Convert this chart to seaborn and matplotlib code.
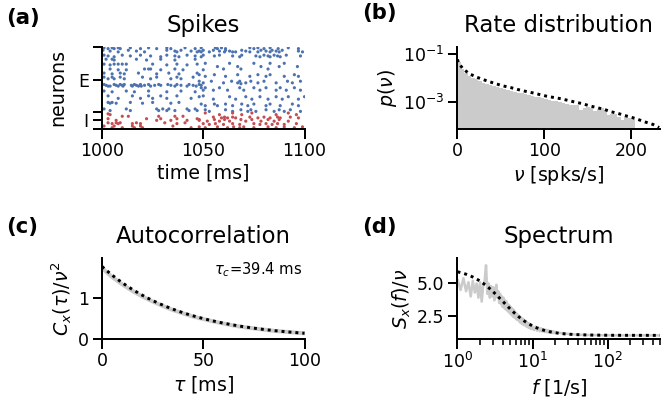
import numpy as np
import pandas as pd
import matplotlib
matplotlib.use("Agg")
import matplotlib.pyplot as plt
from matplotlib.ticker import NullLocator
import seaborn as sns

# ---------------- (a) spike raster ----------------
t_start = 1000  # ms
n_inh = 20
n_exc = 80
# (neuron id, spike times in ms after t_start)
exc_rows = [
    (99, [1, 5, 8, 14, 23, 32, 41, 49, 56, 59, 73, 77, 83, 92]),
    (98, [3, 6, 9, 19, 27, 34, 46, 57, 61, 75, 80, 87, 97]),
    (96, [0.5, 13, 32, 39, 50, 55, 61, 69, 78.5, 84, 89]),
    (95, [4, 17, 36, 44, 48, 58, 63, 71, 81, 86, 97]),
    (94, [8, 21, 37, 47, 49, 53, 60.5, 64.5, 66, 73, 77, 83, 87.5, 99]),
    (90, [1, 10, 19, 32, 42, 50, 58, 69, 80, 85, 91]),
    (89, [3, 14, 24, 36, 46, 55.5, 64.5, 76, 82, 86.7, 98]),
    (88, [6, 29, 38, 49, 68, 78, 83, 88]),
    (85, [2, 5, 17, 29, 46]),
    (84, [6, 22, 36]),
    (80, [51, 63, 75, 83, 90]),
    (79, [1, 6, 8, 10, 12, 25, 37, 47]),
    (78, [4, 32, 42]),
    (76, [57, 67, 78.5, 87.5, 96.5]),
    (73, [4, 21, 23, 24, 36, 60, 68.6, 82]),
    (72, [8, 12, 29, 40, 50]),
    (68, [1, 9, 18, 33, 47]),
    (67, [5, 11, 27, 38]),
    (66, [48, 55.5, 67, 77, 83, 95]),
    (64, [51, 61, 73, 81, 90, 97]),
    (63, [1, 5, 9, 20, 27, 37, 45]),
    (61, [3, 6, 11, 24, 34, 39]),
    (58, [48, 54, 64, 68, 73.5, 80, 91.6, 98]),
    (56, [50, 60, 67, 71, 77, 86, 94]),
    (55, [68.6]),
    (54, [1, 6, 9, 11, 16, 19, 23, 28, 32.5, 37, 43, 48]),
    (53, [2, 7, 10, 14.5, 17, 21, 26, 29, 34, 39, 45, 49]),
    (52, [3, 4, 8, 10.4, 15, 18, 19.4, 24, 36, 42, 46.5]),
    (50, [49, 51, 58, 68, 75, 81, 88, 95]),
    (47, [50, 55, 62, 70, 78, 86, 91, 98]),
    (46, [1, 12, 23, 39]),
    (45, [5, 16, 32, 46]),
    (40, [3, 15, 23, 29, 37, 50]),
    (39, [48, 63, 71, 78, 86, 92, 100]),
    (37, [8, 19, 25, 32, 44]),
    (36, [55, 66, 74, 82, 89, 97]),
    (32, [3, 5, 14, 25, 38]),
    (31, [4, 7, 20, 34]),
    (30, [49, 55.5, 61, 69, 75, 83, 94]),
    (28, [51, 57, 64.5, 72, 81, 88, 97]),
    (24, [1, 12, 27, 30, 33, 42, 46]),
    (23, [51, 61, 68.6, 73.5, 81, 87.5, 93]),
    (22, [4, 14, 28, 32, 36, 43, 47]),
    (21, [53, 64.5, 72, 76, 85, 90, 98]),
]
inh_rows = [
    (19, [51, 64.5, 74, 92]),
    (18, [3]),
    (17, [4, 58, 69, 86, 96]),
    (15, [10, 13, 28, 36, 40]),
    (14, [55, 60.5, 64.5, 73, 80, 86.7, 93]),
    (13, [59, 62, 66, 77, 83, 88, 97]),
    (12, [3, 22, 29, 37, 47]),
    (11, [48, 55.5, 60.5, 68.6, 74, 82, 87.5]),
    (10, [7, 27, 34, 42, 48]),
    (9, [52, 58, 63, 71, 78.5, 85, 92]),
    (7, [3, 7, 9, 17, 31, 41]),
    (6, [5, 8, 15, 19, 37, 50, 56, 64.5, 75, 81, 86.7, 96]),
    (5, [53, 60, 68, 78, 84, 90]),
    (3, [1, 6, 15, 19, 35]),
    (2, [48, 57, 65, 70, 82, 90, 99]),
    (1, [5, 10, 16, 20, 44, 51, 62, 68, 75, 86, 95]),
]

# ---------------- (b) rate distribution ----------------
rate_bin_width = 4.0
rate_hist_log10 = [
    -1.32, -1.62, -1.78, -1.90, -1.98, -2.06, -2.13, -2.19, -2.25, -2.29,
    -2.34, -2.38, -2.42, -2.46, -2.50, -2.53, -2.57, -2.61, -2.64, -2.67,
    -2.70, -2.74, -2.78, -2.81, -2.84, -2.88, -2.92, -2.95, -2.98, -3.02,
    -3.06, -3.10, -3.12, -3.15, -3.13, -3.36, -3.24, -3.20, -3.27, -3.38,
    -3.30, -3.27, -3.35, -3.55, -3.50, -3.52, -3.62, -3.78, -3.64, -3.68,
    -3.74,
]
rate_theory_nu = [0, 1, 6, 13, 21, 29, 37, 44, 52, 61, 69, 77, 86, 94, 102,
                  111, 119, 127, 135, 144, 152, 160, 169, 177, 185, 192, 202,
                  210, 217, 225, 232]
rate_theory_log10 = [-1.22, -1.36, -1.60, -1.81, -1.95, -2.06, -2.16, -2.24,
                     -2.33, -2.40, -2.48, -2.55, -2.62, -2.69, -2.76, -2.82,
                     -2.87, -2.94, -3.01, -3.08, -3.17, -3.24, -3.32, -3.42,
                     -3.49, -3.57, -3.67, -3.77, -3.86, -3.95, -4.08]

# ---------------- (c) autocorrelation ----------------
tau_c = 39.4       # ms, correlation time
acf_amp = 1.78     # C_x(0)/nu^2 of the exponential fit
acf_lag = [0, 5, 10, 15, 20, 25, 30, 35, 40, 45, 50, 55, 60, 65, 70, 75, 80,
           85, 90, 95, 100]
acf_value = [1.74, 1.52, 1.34, 1.18, 1.04, 0.92, 0.81, 0.71, 0.63, 0.55, 0.49,
             0.43, 0.38, 0.33, 0.29, 0.26, 0.23, 0.20, 0.18, 0.16, 0.14]

# ---------------- (d) spectrum ----------------
spec_plateau = 6.2  # S_x(0)/nu of the Lorentzian fit
spec_freq = ([round(1.0 + 0.1 * k, 1) for k in range(91)]
             + [10.5, 11, 11.5, 12, 12.5, 13, 13.5, 14, 14.5, 15, 15.5, 16,
                16.5, 17, 17.5, 18, 18.5, 19, 19.5, 20, 22, 25, 28, 32, 36,
                40, 45, 50, 60, 70, 80, 100, 120, 150, 200, 250, 300, 400,
                500])
spec_value = [
    5.3, 4.5, 5.4, 4.4, 5.1, 4.0, 5.2, 4.3, 5.0, 3.9, 5.1,
    3.6, 4.8, 5.2, 6.4, 4.2, 5.0, 3.9, 4.8, 4.0, 4.7,
    3.7, 4.5, 4.9, 3.9, 4.4, 3.5, 4.2, 3.4, 4.0, 3.2,
    3.9, 3.1, 3.7, 3.0, 3.6, 2.9, 3.4, 2.8, 3.3, 2.7,
    3.2, 2.6, 3.1, 2.5, 3.0, 2.4, 2.9, 2.4, 2.8, 2.3,
    2.7, 2.2, 2.6, 2.2, 2.5, 2.1, 2.5, 2.0, 2.4, 2.0,
    2.3, 1.9, 2.3, 1.9, 2.2, 1.8, 2.2, 1.8, 2.1, 1.8,
    2.1, 1.7, 2.0, 1.7, 2.0, 1.7, 1.9, 1.6, 1.9, 1.6,
    1.9, 1.6, 1.8, 1.5, 1.8, 1.5, 1.8, 1.5, 1.7, 1.5,
    1.42, 1.68, 1.36, 1.60, 1.32, 1.55, 1.30, 1.48, 1.26, 1.44,
    1.24, 1.40, 1.22, 1.36, 1.20, 1.33, 1.18, 1.30, 1.17, 1.27,
    1.20, 1.16, 1.12, 1.09, 1.07, 1.05, 1.04, 1.03, 1.02, 1.02,
    1.01, 1.01, 1.00, 1.00, 1.00, 1.00, 1.00, 1.00, 1.00,
]

# ---------------- style ----------------
sns.set_theme(style="ticks", context="talk")
plt.rcParams["font.family"] = ["DejaVu Sans"]
plt.rcParams["mathtext.fontset"] = "dejavusans"
for key in ("text.color", "axes.labelcolor", "xtick.color", "ytick.color",
            "axes.edgecolor"):
    plt.rcParams[key] = "black"

blue = "#4c72b0"
red = "#c44e52"
grey = "#cbcbcb"
dot_style = (0, (1, 1.35))
title_kw = dict(fontsize=21.6, pad=14)

dpi = 76
fig = plt.figure(figsize=(661 / dpi, 411 / dpi), dpi=dpi)
gs = fig.add_gridspec(2, 2, left=102 / 661, right=660 / 661,
                      top=1 - 47 / 411, bottom=1 - 339 / 411,
                      wspace=153 / 202.5, hspace=129 / 81.5)
ax_a = fig.add_subplot(gs[0, 0])
ax_b = fig.add_subplot(gs[0, 1])
ax_c = fig.add_subplot(gs[1, 0])
ax_d = fig.add_subplot(gs[1, 1])

# (a) raster
records = []
for pop, rows in (("E", exc_rows), ("I", inh_rows)):
    for nid, times in rows:
        for t in times:
            records.append({"time": t_start + t, "neuron": nid, "pop": pop})
spikes = pd.DataFrame(records)
sns.scatterplot(data=spikes, x="time", y="neuron", hue="pop",
                palette={"E": blue, "I": red}, s=9, linewidth=0,
                legend=False, ax=ax_a)
ax_a.set_xlim(1000, 1100)
ax_a.set_ylim(0, n_inh + n_exc)
ax_a.set_xticks([1000, 1050, 1100])
ax_a.set_yticks([0, n_inh / 2, n_inh, n_inh + n_exc / 2, n_inh + n_exc])
ax_a.set_yticklabels(["", "I", "", "E", ""])
ax_a.set_xlabel("time [ms]")
ax_a.set_ylabel("neurons", labelpad=10)
ax_a.set_title("Spikes", **title_kw)

# (b) rate histogram
n_bins = len(rate_hist_log10)
hist_df = pd.DataFrame({"nu": (np.arange(n_bins) + 0.5) * rate_bin_width,
                        "p": 10.0 ** np.array(rate_hist_log10)})
sns.histplot(data=hist_df, x="nu", weights="p", binwidth=rate_bin_width,
             binrange=(0, n_bins * rate_bin_width), color=grey,
             alpha=1, linewidth=0, ax=ax_b)
theory_df = pd.DataFrame({"nu": rate_theory_nu,
                          "p": 10.0 ** np.array(rate_theory_log10)})
sns.lineplot(data=theory_df, x="nu", y="p", color="black", lw=2.8,
             linestyle=dot_style, ax=ax_b)
ax_b.set_yscale("log")
ax_b.set_ylim(10 ** -4.12, 10 ** -0.70)
ax_b.set_xlim(0, 233)
ax_b.set_yticks([1e-3, 1e-1])
ax_b.yaxis.set_minor_locator(NullLocator())
ax_b.set_xticks([0, 100, 200])
ax_b.set_xlabel(r"$\nu$ [spks/s]")
ax_b.set_ylabel(r"$p(\nu)$")
ax_b.set_title("Rate distribution", **title_kw)

# (c) autocorrelation
acf_df = pd.DataFrame({"tau": acf_lag, "c": acf_value})
sns.lineplot(data=acf_df, x="tau", y="c", color=grey, lw=3.8, ax=ax_c)
tau_fine = np.linspace(0, 100, 201)
fit_df = pd.DataFrame({"tau": tau_fine,
                       "c": acf_amp * np.exp(-tau_fine / tau_c)})
sns.lineplot(data=fit_df, x="tau", y="c", color="black", lw=2.8,
             linestyle=dot_style, ax=ax_c)
ax_c.set_xlim(0, 100)
ax_c.set_ylim(0, 2.0)
ax_c.set_xticks([0, 50, 100])
ax_c.set_yticks([0, 1])
ax_c.text(0.99, 0.79, rf"$\tau_c$={tau_c} ms", transform=ax_c.transAxes,
          ha="right", va="baseline", fontsize=14)
ax_c.set_xlabel(r"$\tau$ [ms]")
ax_c.set_ylabel(r"$C_x(\tau)/\nu^2$")
ax_c.set_title("Autocorrelation", **title_kw)

# (d) power spectrum
spec_df = pd.DataFrame({"f": spec_freq, "s": spec_value})
sns.lineplot(data=spec_df, x="f", y="s", color=grey, lw=2.4, ax=ax_d)
f_fine = np.logspace(0, np.log10(500), 200)
lor = 1 + (spec_plateau - 1) / (1 + (2 * np.pi * f_fine * tau_c / 1000) ** 2)
lor_df = pd.DataFrame({"f": f_fine, "s": lor})
sns.lineplot(data=lor_df, x="f", y="s", color="black", lw=2.8,
             linestyle=dot_style, ax=ax_d)
ax_d.set_xscale("log")
ax_d.set_xlim(1, 500)
ax_d.set_ylim(0.72, 7.0)
ax_d.set_yticks([2.5, 5.0])
ax_d.set_yticklabels(["2.5", "5.0"])
ax_d.set_xlabel(r"$f$ [1/s]")
ax_d.set_ylabel(r"$S_x(f)/\nu$")
ax_d.set_title("Spectrum", **title_kw)

sns.despine(fig=fig)

for label, (px, py) in {"(a)": (6, 24), "(b)": (362, 19),
                        "(c)": (6, 233.5), "(d)": (362, 233.5)}.items():
    fig.text(px / 661, 1 - py / 411, label, fontsize=20, fontweight="bold",
             va="baseline", ha="left")

fig.savefig("out.png", dpi=dpi)
